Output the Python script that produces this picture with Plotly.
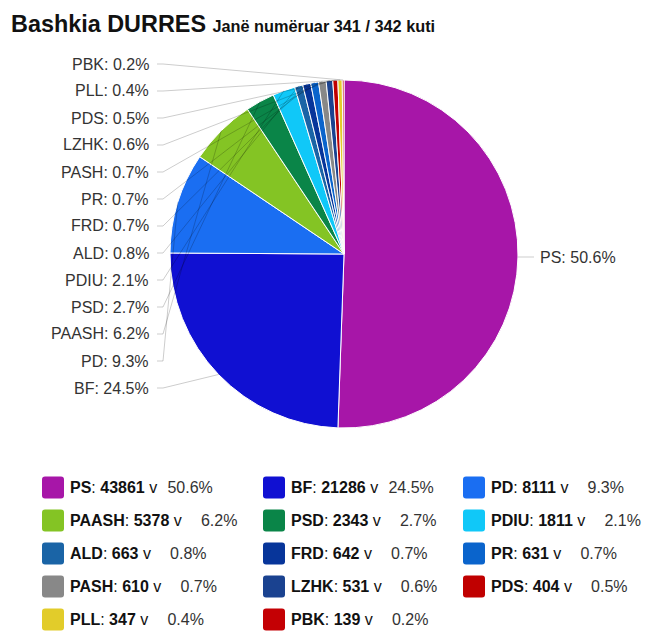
import math
import plotly.graph_objects as go

W, H = 652, 642

parties = ["PS", "BF", "PD", "PAASH", "PSD", "PDIU", "ALD", "FRD", "PR", "PASH", "LZHK", "PDS", "PLL", "PBK"]
votes = [43861, 21286, 8111, 5378, 2343, 1811, 663, 642, 631, 610, 531, 404, 347, 139]
colors = ["#A716A8", "#1010D2", "#1A6EF2", "#84C424", "#0A8548", "#10C8F8", "#1A64A6",
          "#07359A", "#0A64CC", "#888888", "#1A4290", "#C00000", "#E2CC2A", "#C40004"]

title_main = "Bashkia DURRES"
title_sub = "Janë numëruar 341 / 342 kuti"

total = sum(votes)
pcts = [v / total * 100 for v in votes]


def px(x):
    return x / W


def py(y):
    return 1 - y / H


# pie geometry (pixels)
cx, cy, r = 344, 254, 174

fig = go.Figure(go.Pie(
    labels=parties, values=votes, sort=False, direction="clockwise", rotation=0,
    marker=dict(colors=colors, line=dict(color="white", width=1)),
    textinfo="none", hoverinfo="skip", showlegend=False,
    domain=dict(x=[px(cx - r), px(cx + r)], y=[py(cy + r), py(cy - r)]),
))

annotations = []
shapes = []

FONT = "Liberation Sans, Arial, sans-serif"

# title
annotations.append(dict(
    x=px(9), y=py(24), xref="paper", yref="paper", xanchor="left", yanchor="middle",
    showarrow=False,
    text=f"<b>{title_main}</b> <span style='font-size:16.3px'><b>{title_sub}</b></span>",
    font=dict(family=FONT, size=23.4, color="#111"),
))

# slice labels with leader lines
line_col = "rgba(0,0,0,0.2)"
cum = 0.0
n_left = len(parties) - 1
for i, (p, v, pc) in enumerate(zip(parties, votes, pcts)):
    mid = (cum + v / 2) / total
    cum += v
    th = 2 * math.pi * mid
    ex = cx + r * math.sin(th)
    ey = cy - r * math.cos(th)
    txt = f"{p}: {pc:.1f}%"
    if i == 0:
        ly = 257
        annotations.append(dict(
            x=px(538), y=py(ly), xref="paper", yref="paper", xanchor="left", yanchor="middle",
            showarrow=False, text=txt,
            font=dict(family=FONT, size=16, color="#333")))
        shapes.append(dict(type="line", xref="paper", yref="paper",
                           x0=px(ex), y0=py(ly), x1=px(534), y1=py(ly),
                           line=dict(color=line_col, width=1)))
    else:
        ly = 64 + 27 * (n_left - i)
        annotations.append(dict(
            x=px(151), y=py(ly), xref="paper", yref="paper", xanchor="right", yanchor="middle",
            showarrow=False, text=txt,
            font=dict(family=FONT, size=16, color="#333")))
        path = (f"M {px(157)} {py(ly)} L {px(163)} {py(ly)} "
                f"L {px(ex)} {py(ey)}")
        shapes.append(dict(type="path", xref="paper", yref="paper", path=path,
                           line=dict(color=line_col, width=1)))


def rounded_rect(x0, y0, x1, y1, rad):
    # pixel coords -> paper path with rounded corners
    pts = [
        f"M {px(x0 + rad)} {py(y0)}",
        f"L {px(x1 - rad)} {py(y0)}",
        f"Q {px(x1)} {py(y0)} {px(x1)} {py(y0 + rad)}",
        f"L {px(x1)} {py(y1 - rad)}",
        f"Q {px(x1)} {py(y1)} {px(x1 - rad)} {py(y1)}",
        f"L {px(x0 + rad)} {py(y1)}",
        f"Q {px(x0)} {py(y1)} {px(x0)} {py(y1 - rad)}",
        f"L {px(x0)} {py(y0 + rad)}",
        f"Q {px(x0)} {py(y0)} {px(x0 + rad)} {py(y0)}",
        "Z",
    ]
    return " ".join(pts)


# custom legend
col_x = [42, 263, 463]
row_y0, row_dy = 487.5, 33
for i, (p, v, pc, c) in enumerate(zip(parties, votes, pcts, colors)):
    row, col = divmod(i, 3)
    sx = col_x[col]
    sy = row_y0 + row * row_dy
    shapes.append(dict(type="path", xref="paper", yref="paper",
                       path=rounded_rect(sx, sy - 11, sx + 22, sy + 11, 3),
                       fillcolor=c, line=dict(width=0), layer="above"))
    pad = "\u2007" if pc < 10 else ""
    txt = (f"<b>{p}</b>: <b>{v}</b> v&nbsp;&nbsp;\u200a"
           f"<span style='color:#333'>{pad}{pc:.1f}%</span>")
    annotations.append(dict(
        x=px(sx + 26), y=py(sy), xref="paper", yref="paper", xanchor="left", yanchor="middle",
        showarrow=False, text=txt,
        font=dict(family=FONT, size=16, color="#111")))

fig.update_layout(
    width=W, height=H, margin=dict(l=0, r=0, t=0, b=0),
    paper_bgcolor="white", plot_bgcolor="white",
    annotations=annotations, shapes=shapes, showlegend=False,
)

fig.write_html("out.html")
